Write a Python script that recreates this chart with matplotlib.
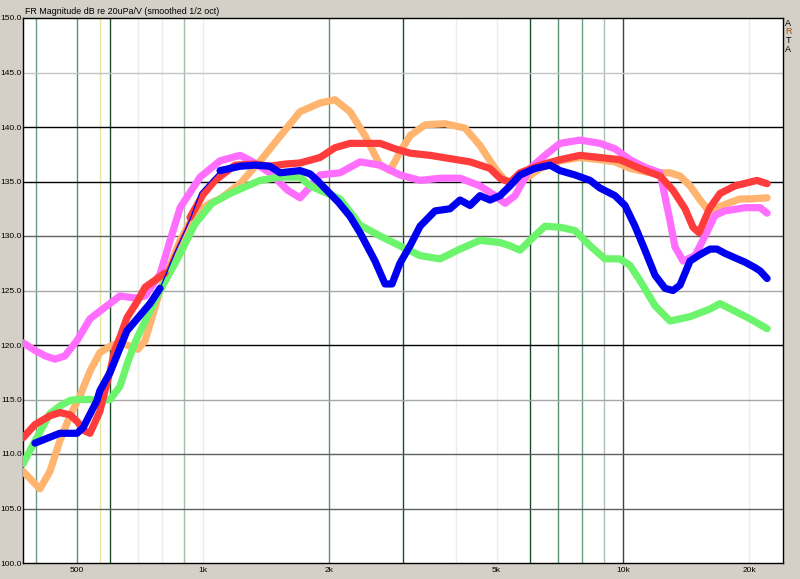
"""
ARTA-style frequency response plot (smoothed 1/2 oct), five measurements.

Output:
    out.png
"""

import matplotlib.pyplot as plt
import numpy as np

# --- data (Hz, dB) ---
BLUE_F = [398, 456, 501, 518, 559, 568, 601, 659, 748, 790, 858, 931, 984, 1098,
          1225, 1330, 1443, 1525, 1611, 1702, 1798, 1870, 2100, 2239, 2365, 2568,
          2713, 2818, 2944, 3111, 3287, 3568, 3874, 4092, 4323, 4566, 4824, 5096,
          5383, 5686, 6172, 6701, 7079, 7688, 8346, 8815, 9571, 10110, 10680,
          11280, 11920, 12590, 13150, 13670, 14440, 15260, 16110, 16740, 17500,
          18480, 19520, 20620, 21200, 22030]
BLUE_DB = [111.0, 111.9, 111.9, 112.4, 114.9, 115.8, 117.5, 121.3, 123.8, 125.2,
           128.5, 131.5, 134.0, 136.0, 136.4, 136.5, 136.4, 135.8, 135.9, 136.0,
           135.7, 135.1, 133.1, 131.8, 130.3, 127.7, 125.6, 125.6, 127.5, 129.1,
           130.9, 132.3, 132.5, 133.3, 132.8, 133.7, 133.3, 133.7, 134.6, 135.6,
           136.2, 136.5, 136.0, 135.6, 135.1, 134.4, 133.7, 132.8, 130.9, 128.7,
           126.4, 125.2, 125.0, 125.5, 127.7, 128.3, 128.8, 128.8, 128.4, 128.0,
           127.6, 127.1, 126.8, 126.1]

RED_F = [373, 398, 432, 456, 482, 501, 524, 538, 568, 584, 601, 617, 634, 659, 700,
         728, 812, 870, 931, 1000, 1068, 1192, 1330, 1443, 1568, 1702, 1899, 2062,
         2239, 2365, 2639, 2865, 3111, 3472, 3874, 4323, 4824, 5096, 5383, 5686,
         6344, 7079, 7901, 8815, 9837, 10980, 12250, 13150, 14050, 14680, 15170,
         16110, 17020, 18480, 20840, 22030]
RED_DB = [111.5, 112.7, 113.5, 113.8, 113.6, 113.0, 112.1, 111.9, 113.9, 115.8,
          117.6, 119.6, 120.7, 122.5, 124.1, 125.3, 126.6, 129.2, 131.7, 133.8,
          135.1, 136.5, 136.6, 136.4, 136.6, 136.7, 137.2, 138.1, 138.5, 138.5,
          138.5, 138.0, 137.6, 137.4, 137.1, 136.8, 136.2, 135.3, 134.9, 135.8,
          136.5, 137.0, 137.4, 137.2, 137.0, 136.2, 135.5, 134.2, 132.5, 130.8,
          130.3, 132.6, 133.9, 134.6, 135.1, 134.8]

GREEN_F = [373, 398, 432, 456, 482, 501, 538, 568, 601, 634, 663, 692, 728, 790,
           872, 957, 1050, 1160, 1367, 1525, 1702, 1800, 1899, 2120, 2365, 2639,
           2944, 3287, 3667, 4092, 4566, 5096, 5383, 5686, 6006, 6520, 7079, 7688,
           8346, 9061, 9837, 10390, 10980, 11920, 12940, 14440, 16110, 17020, 18480,
           20060, 22030]
GREEN_DB = [109.1, 111.2, 113.7, 114.4, 114.9, 115.0, 115.0, 114.9, 115.0, 116.2,
            118.5, 120.4, 122.2, 125.0, 128.0, 131.1, 133.0, 133.9, 135.1, 135.4,
            135.4, 134.6, 134.2, 133.4, 131.0, 130.0, 129.1, 128.2, 127.9, 128.8,
            129.6, 129.4, 129.1, 128.7, 129.6, 130.9, 130.8, 130.5, 129.1, 127.9,
            127.9, 127.3, 125.9, 123.6, 122.2, 122.6, 123.3, 123.8, 123.1, 122.4,
            121.5]

ORANGE_F = [373, 409, 432, 456, 482, 509, 538, 568, 601, 634, 670, 700, 728, 790,
            882, 957, 1039, 1098, 1225, 1390, 1500, 1702, 1899, 2062, 2239, 2431,
            2639, 2788, 2944, 3111, 3379, 3769, 4206, 4566, 4958, 5237, 5686, 6344,
            7079, 7901, 8815, 9571, 10390, 11600, 12940, 13670, 14440, 15260, 15850,
            16560, 17500, 18990, 20060, 22030]
ORANGE_DB = [108.4, 106.8, 108.4, 111.2, 113.5, 115.3, 117.6, 119.3, 119.9, 120.2,
             119.9, 119.6, 120.4, 125.0, 129.6, 132.1, 133.0, 133.4, 134.8, 137.2,
             138.8, 141.4, 142.2, 142.5, 141.4, 139.2, 136.5, 136.0, 137.7, 139.2,
             140.2, 140.3, 139.9, 138.3, 136.2, 135.1, 134.9, 136.2, 136.9, 137.2,
             137.0, 136.8, 136.2, 135.8, 135.8, 135.5, 134.6, 133.3, 132.5, 132.5,
             132.9, 133.4, 133.4, 133.5]

MAGENTA_F = [373, 398, 421, 444, 469, 501, 538, 568, 634, 692, 728, 790, 835, 882,
             984, 1098, 1225, 1300, 1443, 1590, 1702, 1798, 1899, 2120, 2365, 2639,
             2944, 3287, 3667, 4092, 4566, 4958, 5237, 5533, 6006, 6520, 7079, 7901,
             8815, 9571, 10390, 11280, 12250, 12940, 13300, 13900, 14840, 15680,
             16560, 17500, 19520, 21200, 22030]
MAGENTA_DB = [120.2, 119.5, 119.0, 118.7, 119.0, 120.4, 122.4, 123.1, 124.5, 124.3,
              124.5, 126.5, 129.6, 132.6, 135.4, 136.9, 137.4, 136.9, 135.8, 134.2,
              133.5, 134.5, 135.6, 135.8, 136.8, 136.5, 135.6, 135.1, 135.3, 135.3,
              134.6, 133.7, 133.0, 133.7, 136.2, 137.4, 138.5, 138.8, 138.5, 138.0,
              137.0, 136.3, 135.8, 131.4, 129.0, 127.7, 128.2, 130.0, 131.9, 132.3,
              132.6, 132.6, 132.1]

# frequency spans where the thick trace is broken in the reference
BLUE_GAP = (800, 1090)
RED_GAP = (815, 925)

X_TICKS = [500, 1000, 2000, 5000, 10000, 20000]
X_TICK_LABELS = ["500", "1k", "2k", "5k", "10k", "20k"]
Y_TICKS = [100, 105, 110, 115, 120, 125, 130, 135, 140, 145, 150]

# vertical grid / marker lines (Hz, colour)
V_LINES = [
    (400, "#6a9a80"), (500, "#5a9070"), (570, "#e6e6a0"), (600, "#1c4a2c"),
    (700, "#ececec"), (800, "#ececec"), (900, "#a8bca8"), (1000, "#ececec"),
    (2000, "#5a9070"), (3000, "#1c4a2c"), (4000, "#ececec"), (5000, "#ececec"),
    (6000, "#1c4a2c"), (7000, "#5a9070"), (8000, "#6aa080"), (9000, "#b0c0b0"),
    (10000, "#404040"), (20000, "#ececec"),
]
# horizontal grid lines (dB, colour)
H_LINES = [
    (105, "#606060"), (110, "#606060"), (115, "#a8a8a8"), (120, "#000000"),
    (125, "#a8a8a8"), (130, "#606060"), (135, "#000000"), (140, "#000000"),
    (145, "#c4c4c4"),
]

BG = "#d4d0c8"


def gapped(freqs, values, gap):
    """Return values with NaN inside the gap span (for the thick trace)."""
    f = np.asarray(freqs, dtype=float)
    v = np.asarray(values, dtype=float).copy()
    if gap is not None:
        v[(f > gap[0]) & (f < gap[1])] = np.nan
    return f, v


fig = plt.figure(figsize=(8.0, 5.79), dpi=100, facecolor=BG)
ax = fig.add_axes([23 / 800, 1 - 563 / 579, 760 / 800, 545 / 579])
ax.set_facecolor("white")
ax.set_xscale("log")
ax.set_xlim(372.7, 24040)
ax.set_ylim(100, 150)

for f, c in V_LINES:
    ax.axvline(f, color=c, linewidth=1.0, zorder=1)
for db, c in H_LINES:
    ax.axhline(db, color=c, linewidth=1.0, zorder=1)

curves = [
    (ORANGE_F, ORANGE_DB, "#ffb470", None),
    (MAGENTA_F, MAGENTA_DB, "#ff6eff", None),
    (GREEN_F, GREEN_DB, "#6cf56c", None),
    (RED_F, RED_DB, "#ff3c3c", RED_GAP),
    (BLUE_F, BLUE_DB, "#0000f0", BLUE_GAP),
]
for i, (f, db, c, gap) in enumerate(curves):
    if gap is not None:
        ax.plot(f, db, color=c, linewidth=0.9, zorder=3 + i)
    fx, vy = gapped(f, db, gap)
    ax.plot(fx, vy, color=c, linewidth=5.2, solid_capstyle="round",
            solid_joinstyle="round", zorder=3 + i)

ax.set_xticks(X_TICKS)
ax.set_xticklabels(X_TICK_LABELS)
ax.xaxis.set_minor_locator(plt.NullLocator())
ax.set_yticks(Y_TICKS)
ax.set_yticklabels([f"{v:.1f}" for v in Y_TICKS])
ax.tick_params(length=0, labelsize=6.0, pad=1, labelfontfamily="Liberation Sans")
ax.tick_params(axis="x", pad=3)

for side in ax.spines.values():
    side.set_color("black")
    side.set_linewidth(1.0)

fig.text(25 / 800, 1 - 11 / 579, "FR Magnitude dB re 20uPa/V (smoothed 1/2 oct)",
         fontsize=6.4, family="Liberation Sans", va="center", ha="left")

for k, (ch, c) in enumerate(zip("ARTA", ["black", "#b05000", "black", "black"])):
    fig.text(788 / 800, 1 - (23 + k * 8.7) / 579, ch, fontsize=6.5,
             family="Liberation Sans", color=c, ha="center", va="center")

fig.savefig("out.png", dpi=100, facecolor=BG)
